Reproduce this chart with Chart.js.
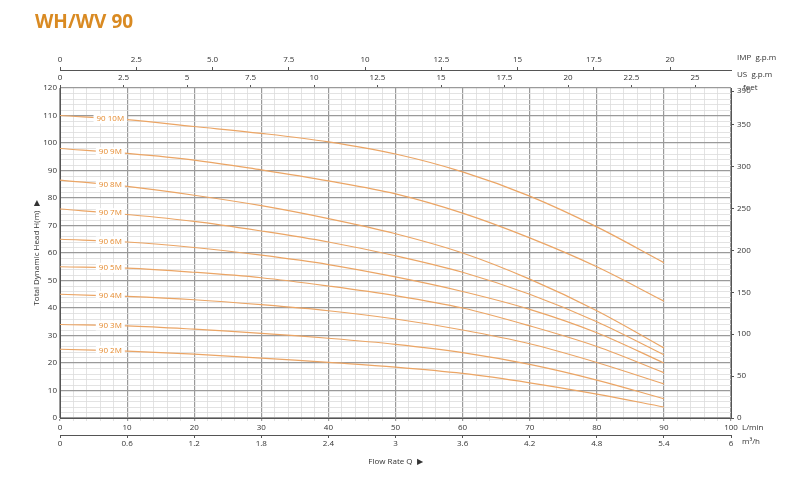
<!DOCTYPE html>
<html>
<head>
<meta charset="utf-8">
<script src="https://cdn.jsdelivr.net/npm/chart.js@4"></script>
<style>
  body { margin: 0; background: #fff; }
  #wrap { position: relative; width: 800px; height: 480px; }
  h1 { position: absolute; left: 35px; top: 8px; margin: 0; font: bold 19px "Open Sans", sans-serif; color: #D98A22; }
</style>
</head>
<body>
<div id="wrap">
  <h1>WH/WV 90</h1>
  <canvas id="c" width="800" height="480"></canvas>
</div>
<script>
// flow rate, L/min
const flow = [0, 10, 20, 30, 40, 50, 60, 70, 80, 90];
// head, m
const h10M = [110, 108.5, 106, 103.5, 100.4, 96, 89.5, 80.7, 69.5, 56.5];
const h9M = [98, 96.2, 93.8, 90.2, 86.2, 81.5, 74.5, 65.5, 55, 42.5];
const h8M = [86.5, 84.2, 81, 77.2, 72.5, 67, 60, 50.5, 39, 25.5];
const h7M = [76, 74, 71.5, 68, 64, 59, 53, 45, 35, 23];
const h6M = [65, 64, 62, 59.2, 55.8, 51.3, 46, 39.5, 31, 20];
const h5M = [55, 54.5, 53, 51, 48, 44.5, 40, 33.5, 26, 16.5];
const h4M = [45, 44.2, 43, 41.2, 39, 36, 32, 27, 20.2, 12.4];
const h3M = [34, 33.5, 32.3, 30.8, 29, 26.8, 23.8, 19.5, 13.8, 7];
const h2M = [25, 24.3, 23.2, 21.8, 20.2, 18.5, 16.2, 12.8, 8.7, 4];
const models = ['90 10M', '90 9M', '90 8M', '90 7M', '90 6M', '90 5M', '90 4M', '90 3M', '90 2M'];
const heads = [h10M, h9M, h8M, h7M, h6M, h5M, h4M, h3M, h2M];

const impTicks = ['0', '2.5', '5.0', '7.5', '10', '12.5', '15', '17.5', '20'];
const usTicks = ['0', '2.5', '5', '7.5', '10', '12.5', '15', '17.5', '20', '22.5', '25'];
const m3hTicks = ['0', '0.6', '1.2', '1.8', '2.4', '3', '3.6', '4.2', '4.8', '5.4', '6'];
const feetTicks = ['0', '50', '100', '150', '200', '250', '300', '350', '390'];

const lineColor = '#EBA565';
const labelColor = '#E58A2E';
const tickFont = { family: 'Open Sans', size: 8 };

function setTicks(list) {
  return (axis) => { axis.ticks = list.map(v => ({ value: Number(v) })); };
}
function labelFrom(list) {
  return (v) => list.find(s => Math.abs(Number(s) - v) < 1e-6) || '';
}
function fitHeight(h) { return (axis) => { axis.height = h; }; }
function fitWidth(w) { return (axis) => { axis.width = w; }; }

const curveLabels = {
  id: 'curveLabels',
  afterDatasetsDraw(chart) {
    const ctx = chart.ctx;
    const xs = chart.scales.x, ys = chart.scales.y;
    ctx.save();
    ctx.font = '8px "Open Sans"';
    ctx.textBaseline = 'middle';
    ctx.textAlign = 'center';
    heads.forEach((arr, i) => {
      const xv = 7.5;
      const yv = arr[0] + (arr[1] - arr[0]) * xv / 10;
      const px = xs.getPixelForValue(xv), py = ys.getPixelForValue(yv);
      const w = ctx.measureText(models[i]).width + 6;
      ctx.fillStyle = '#fff';
      ctx.fillRect(px - w / 2, py - 5, w, 10);
      ctx.fillStyle = labelColor;
      ctx.fillText(models[i], px, py);
    });
    // unit labels
    const a = chart.chartArea;
    ctx.fillStyle = '#333';
    ctx.textAlign = 'left';
    ctx.fillText('IMP  g.p.m', a.right + 6, 58);
    ctx.fillText('US  g.p.m', a.right + 6, 75);
    ctx.fillText('L/min', a.right + 11, 428);
    ctx.fillText('m³/h', a.right + 11, 442);
    ctx.fillText('feet', a.right + 12, 88);
    ctx.textAlign = 'center';
    ctx.fillText('Flow Rate Q  \u25B6', (a.left + a.right) / 2, 462);
    ctx.translate(37, (a.top + a.bottom) / 2);
    ctx.rotate(-Math.PI / 2);
    ctx.fillText('Total Dynamic Head H(m)  \u25B6', 0, 0);
    ctx.restore();
  }
};

new Chart(document.getElementById('c'), {
  type: 'line',
  data: {
    labels: flow,
    datasets: heads.map((arr, i) => ({
      label: models[i],
      data: flow.map((f, j) => ({ x: f, y: arr[j] })),
      borderColor: lineColor,
      borderWidth: 1.2,
      pointRadius: 0,
      tension: 0.35,
      fill: false
    }))
  },
  options: {
    responsive: false,
    animation: false,
    layout: { padding: { top: 52, left: 0, right: 0, bottom: 31 } },
    plugins: { legend: { display: false }, tooltip: { enabled: false } },
    scales: {
      x: {
        type: 'linear', position: 'bottom', min: 0, max: 100,
        ticks: { stepSize: 2, autoSkip: false, maxRotation: 0, color: '#333', font: tickFont, padding: 2,
          callback: v => (v % 10 === 0 ? v : '') },
        grid: { color: c => (c.tick && c.tick.value % 10 === 0 ? '#9a9a9a' : '#dcdcdc'), lineWidth: c => (c.tick && c.tick.value % 10 === 0 ? 1.2 : 0.8), tickLength: 3 },
        border: { color: '#555' },
        afterFit: fitHeight(17)
      },
      xM3: {
        type: 'linear', position: 'bottom', min: 0, max: 6,
        afterBuildTicks: setTicks(m3hTicks),
        ticks: { autoSkip: false, maxRotation: 0, color: '#333', font: tickFont, padding: 1, callback: labelFrom(m3hTicks) },
        grid: { drawOnChartArea: false, tickLength: 3, color: '#555' },
        border: { color: '#555' },
        afterFit: fitHeight(14)
      },
      xUS: {
        type: 'linear', position: 'top', min: 0, max: 26.417,
        afterBuildTicks: setTicks(usTicks),
        ticks: { autoSkip: false, maxRotation: 0, color: '#333', font: tickFont, padding: 2, callback: labelFrom(usTicks) },
        grid: { drawOnChartArea: false, tickLength: 3, color: '#555' },
        border: { display: false },
        afterFit: fitHeight(18)
      },
      xIMP: {
        type: 'linear', position: 'top', min: 0, max: 21.997,
        afterBuildTicks: setTicks(impTicks),
        ticks: { autoSkip: false, maxRotation: 0, color: '#333', font: tickFont, padding: 2, callback: labelFrom(impTicks) },
        grid: { drawOnChartArea: false, tickLength: 3, color: '#555' },
        border: { color: '#555' },
        afterFit: fitHeight(18)
      },
      y: {
        type: 'linear', position: 'left', min: 0, max: 120,
        ticks: { stepSize: 2, autoSkip: false, color: '#333', font: tickFont, padding: 3,
          callback: v => (v % 10 === 0 ? v : '') },
        grid: { color: c => (c.tick && c.tick.value % 10 === 0 ? '#9a9a9a' : '#dcdcdc'), lineWidth: c => (c.tick && c.tick.value % 10 === 0 ? 1.2 : 0.8), tickLength: 0 },
        border: { color: '#555' },
        afterFit: fitWidth(60)
      },
      yFt: {
        type: 'linear', position: 'right', min: 0, max: 393.7,
        afterBuildTicks: setTicks(feetTicks),
        ticks: { autoSkip: false, color: '#333', font: tickFont, padding: 3, callback: labelFrom(feetTicks) },
        grid: { drawOnChartArea: false, tickLength: 3, color: '#555' },
        border: { color: '#555' },
        afterFit: fitWidth(69)
      }
    }
  },
  plugins: [curveLabels]
});
</script>
</body>
</html>
